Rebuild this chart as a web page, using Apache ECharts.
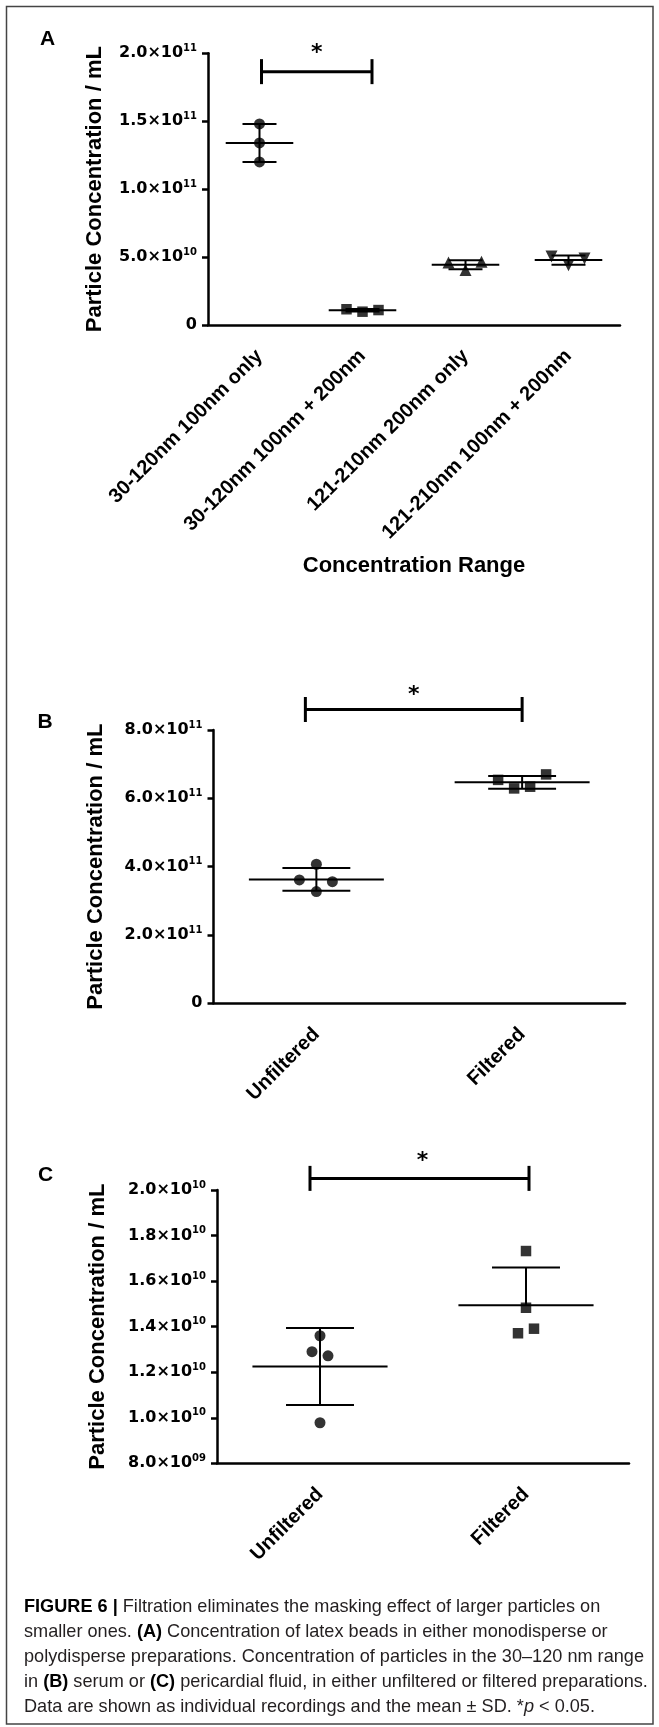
<!DOCTYPE html>
<html><head><meta charset="utf-8">
<script src="https://cdn.jsdelivr.net/npm/echarts@6/dist/echarts.min.js"></script>
<style>html,body{margin:0;padding:0;background:#fff}#c{width:659px;height:1727px}</style>
</head><body><div id="c"></div>
<script>
// ---------------- DATA ----------------
// Panel A
const A_CATEGORIES = ['30-120nm 100nm only', '30-120nm 100nm + 200nm', '121-210nm 200nm only', '121-210nm 100nm + 200nm'];
const A_30_120_100_ONLY = [1.48e11, 1.34e11, 1.20e11];
const A_30_120_100_200 = [1.16e10, 0.98e10, 1.10e10];
const A_121_210_200_ONLY = [4.60e10, 4.05e10, 4.65e10];
const A_121_210_100_200 = [5.05e10, 4.40e10, 4.90e10];
const A_Y_AXIS = { min: 0, max: 2e11, interval: 5e10 };
const A_SIG = [0, 1, 1.865e11];
const A_X_NAME = 'Concentration Range';

// Panel B
const B_CATEGORIES = ['Unfiltered', 'Filtered'];
const B_UNFILTERED = [3.61e11, 4.07e11, 3.56e11, 3.27e11];
const B_FILTERED = [6.54e11, 6.29e11, 6.34e11, 6.70e11];
const B_Y_AXIS = { min: 0, max: 8e11, interval: 2e11 };
const B_SIG = [0, 1, 8.6e11];

// Panel C
const C_CATEGORIES = ['Unfiltered', 'Filtered'];
const C_UNFILTERED = [1.360e10, 1.290e10, 1.272e10, 0.978e10];
const C_FILTERED = [1.732e10, 1.483e10, 1.371e10, 1.391e10];
const C_Y_AXIS = { min: 8e9, max: 2e10, interval: 2e9 };
const C_SIG = [0, 1, 2.051e10];

const Y_NAME = 'Particle Concentration / mL';
const PANEL_LETTERS = ['A', 'B', 'C'];
const CAPTION = [
  '{b|FIGURE 6 |} Filtration eliminates the masking effect of larger particles on',
  'smaller ones. {b|(A)} Concentration of latex beads in either monodisperse or',
  'polydisperse preparations. Concentration of particles in the 30\u2013120 nm range',
  'in {b|(B)} serum or {b|(C)} pericardial fluid, in either unfiltered or filtered preparations.',
  'Data are shown as individual recordings and the mean \u00b1 SD. *{i|p} < 0.05.'
];

// ---------------- STYLE / LAYOUT ----------------
const FONT = '"Liberation Sans", Arial, sans-serif';
const TICK_FONT = '"DejaVu Sans", sans-serif';
const JITTER = {
  A: [[0, 0, 0], [-16, 0, 16], [-17, 0, 16], [-17, 0, 16]],
  B: [[-17, 0, 16, 0], [-24, -8, 8, 24]],
  C: [[0, -8, 8, 0], [0, 0, -8, 8]]
};
const LAYOUT = [
  { grid: { left: 208, top: 53.3, width: 412, height: 271.7 }, yNameGap: 102, sigEnds: [2, 9.5], starDx: 0, starDy: 22, letter: [47.5, 39] },
  { grid: { left: 213.5, top: 730, width: 411.5, height: 273.3 }, yNameGap: 107, sigEnds: [-11, 0], starDx: 0, starDy: 18, letter: [45, 722] },
  { grid: { left: 217, top: 1190, width: 412, height: 273.3 }, yNameGap: 108, sigEnds: [-10, 3], starDx: 3, starDy: 21.6, letter: [45.5, 1175] }
];

function mean(a) { return a.reduce((s, v) => s + v, 0) / a.length; }
function sd(a) { const m = mean(a); return Math.sqrt(a.reduce((s, v) => s + (v - m) * (v - m), 0) / (a.length - 1)); }

function sciLabel(v) {
  if (v === 0) return '{m|0}';
  const e = Math.floor(Math.log10(v) + 1e-9);
  const m = v / Math.pow(10, e);
  const es = (e < 10 ? '0' : '') + e;
  return '{m|' + m.toFixed(1) + '\u00d710}{e|' + es + '}';
}

const grids = [], xAxes = [], yAxes = [], series = [];

function addPanel(i, cats, groups, symbols, yCfg, sig, lowerFlags, xName) {
  const L = LAYOUT[i];
  grids.push(Object.assign({ containLabel: false, outerBoundsMode: 'none' }, L.grid));
  xAxes.push({
    type: 'category', gridIndex: i, data: cats, boundaryGap: true,
    axisLine: { onZero: false, lineStyle: { color: '#000', width: 2.5 } },
    axisTick: { alignWithLabel: true, length: 7, lineStyle: { color: '#000', width: 2.5 } },
    axisLabel: { interval: 0, rotate: 45, margin: 28, verticalAlign: 'middle', color: '#000', fontFamily: FONT, fontWeight: 'bold', fontSize: 20 },
    splitLine: { show: false },
    name: xName || '', nameLocation: 'middle', nameGap: 230, nameMoveOverlap: false,
    nameTextStyle: { color: '#000', fontFamily: FONT, fontWeight: 'bold', fontSize: 22 }
  });
  yAxes.push({
    type: 'value', gridIndex: i, min: yCfg.min, max: yCfg.max, interval: yCfg.interval,
    axisLine: { show: true, lineStyle: { color: '#000', width: 2.5 } },
    axisTick: { show: true, length: 6, lineStyle: { color: '#000', width: 2.5 } },
    splitLine: { show: false },
    axisLabel: {
      margin: 11, formatter: sciLabel,
      rich: {
        m: { fontFamily: TICK_FONT, fontWeight: 'bold', fontSize: 16, lineHeight: 20, color: '#000' },
        e: { fontFamily: TICK_FONT, fontWeight: 'bold', fontSize: 10, lineHeight: 10, verticalAlign: 'top', color: '#000' }
      }
    },
    name: Y_NAME, nameLocation: 'middle', nameRotate: 90, nameGap: L.yNameGap, nameMoveOverlap: false,
    nameTextStyle: { color: '#000', fontFamily: FONT, fontWeight: 'bold', fontSize: 22 }
  });
  // error bars (mean ± SD)
  series.push({
    type: 'custom', xAxisIndex: i, yAxisIndex: i, silent: true, z: 2,
    encode: { x: 0, y: 1 },
    data: groups.map((g, c) => [c, mean(g), sd(g), lowerFlags[c] ? 1 : 0]),
    renderItem: function (params, api) {
      const c = api.value(0), m = api.value(1), s = api.value(2), lo = api.value(3);
      const p = api.coord([c, m]);
      const pt = api.coord([c, m + s]);
      const pb = api.coord([c, lo ? m - s : m]);
      const bw = api.size([1, 0])[0];
      const mh = bw * 0.328, ch = bw * 0.165;
      const st = { stroke: '#000', lineWidth: 2, fill: null };
      const ch_ = [
        { type: 'line', shape: { x1: p[0] - mh, y1: p[1], x2: p[0] + mh, y2: p[1] }, style: st },
        { type: 'line', shape: { x1: p[0], y1: pt[1], x2: p[0], y2: pb[1] }, style: st },
        { type: 'line', shape: { x1: p[0] - ch, y1: pt[1], x2: p[0] + ch, y2: pt[1] }, style: st }
      ];
      if (lo) ch_.push({ type: 'line', shape: { x1: p[0] - ch, y1: pb[1], x2: p[0] + ch, y2: pb[1] }, style: st });
      return { type: 'group', children: ch_ };
    }
  });
  // individual points
  groups.forEach((g, c) => {
    const sym = symbols[c];
    series.push({
      type: 'scatter', xAxisIndex: i, yAxisIndex: i, silent: true, z: 3,
      symbol: sym.symbol, symbolSize: sym.size, symbolRotate: sym.rotate || 0,
      itemStyle: { color: '#000' },
      data: g.map((v, k) => ({ value: [c, v], symbolOffset: [JITTER['ABC'[i]][c][k], 0] }))
    });
  });
  // significance bar
  series.push({
    type: 'custom', xAxisIndex: i, yAxisIndex: i, silent: true, z: 4, clip: false,
    encode: { x: [0, 1], y: 2 },
    data: [sig],
    renderItem: function (params, api) {
      const p1 = api.coord([api.value(0), api.value(2)]);
      const p2 = api.coord([api.value(1), api.value(2)]);
      const x1 = p1[0] + L.sigEnds[0], x2 = p2[0] + L.sigEnds[1], y = p1[1];
      const st = { stroke: '#000', lineWidth: 3, fill: null };
      return {
        type: 'group', children: [
          { type: 'line', shape: { x1: x1, y1: y, x2: x2, y2: y }, style: st },
          { type: 'line', shape: { x1: x1, y1: y - 12.5, x2: x1, y2: y + 12.5 }, style: st },
          { type: 'line', shape: { x1: x2, y1: y - 12.5, x2: x2, y2: y + 12.5 }, style: st },
          { type: 'text', x: (x1 + x2) / 2 + L.starDx, y: y - L.starDy + 4,
            style: { text: '*', fontFamily: TICK_FONT, fontWeight: 'bold', fontSize: 22, fill: '#000', align: 'center', verticalAlign: 'middle' } }
        ]
      };
    }
  });
}

const CIRCLE = { symbol: 'circle', size: 11 };
const SQUARE = { symbol: 'rect', size: 10.5 };
const TRI_UP = { symbol: 'triangle', size: 12 };
const TRI_DOWN = { symbol: 'triangle', size: 12, rotate: 180 };

addPanel(0, A_CATEGORIES, [A_30_120_100_ONLY, A_30_120_100_200, A_121_210_200_ONLY, A_121_210_100_200],
  [CIRCLE, SQUARE, TRI_UP, TRI_DOWN], A_Y_AXIS, A_SIG, [1, 1, 1, 1], A_X_NAME);
addPanel(1, B_CATEGORIES, [B_UNFILTERED, B_FILTERED], [CIRCLE, SQUARE], B_Y_AXIS, B_SIG, [1, 1], '');
addPanel(2, C_CATEGORIES, [C_UNFILTERED, C_FILTERED], [CIRCLE, SQUARE], C_Y_AXIS, C_SIG, [1, 0], '');

// caption horizontal compression (condensed look)
const cv = document.createElement('canvas').getContext('2d');
const CAP_SIZE = 19;
cv.font = CAP_SIZE + 'px "Liberation Sans"';
const CAP_SX = 620 / cv.measureText(CAPTION[2]).width;

const graphics = [
  { type: 'rect', silent: true, shape: { x: 6.5, y: 6.5, width: 646.5, height: 1717.5 }, style: { fill: 'none', stroke: '#444', lineWidth: 1.5 } }
];
PANEL_LETTERS.forEach((t, i) => graphics.push({
  type: 'text', silent: true, x: LAYOUT[i].letter[0], y: LAYOUT[i].letter[1],
  style: { text: t, fontFamily: FONT, fontWeight: 'bold', fontSize: 21, fill: '#000', align: 'center', verticalAlign: 'middle' }
}));
CAPTION.forEach((line, k) => graphics.push({
  type: 'text', silent: true, x: 24, y: 1606.7 + 25 * k, scaleX: CAP_SX,
  style: {
    text: line, fontFamily: FONT, fontSize: CAP_SIZE, fill: '#231f20', align: 'left', verticalAlign: 'middle',
    rich: {
      b: { fontFamily: FONT, fontSize: CAP_SIZE, fontWeight: 'bold', fill: '#000' },
      i: { fontFamily: FONT, fontSize: CAP_SIZE, fontStyle: 'italic', fill: '#231f20' }
    }
  }
}));

const chart = echarts.init(document.getElementById('c'), null, { renderer: 'canvas', width: 659, height: 1727 });
chart.setOption({
  animation: false,
  backgroundColor: '#fff',
  grid: grids, xAxis: xAxes, yAxis: yAxes, series: series,
  graphic: { elements: graphics }
});
</script></body></html>
